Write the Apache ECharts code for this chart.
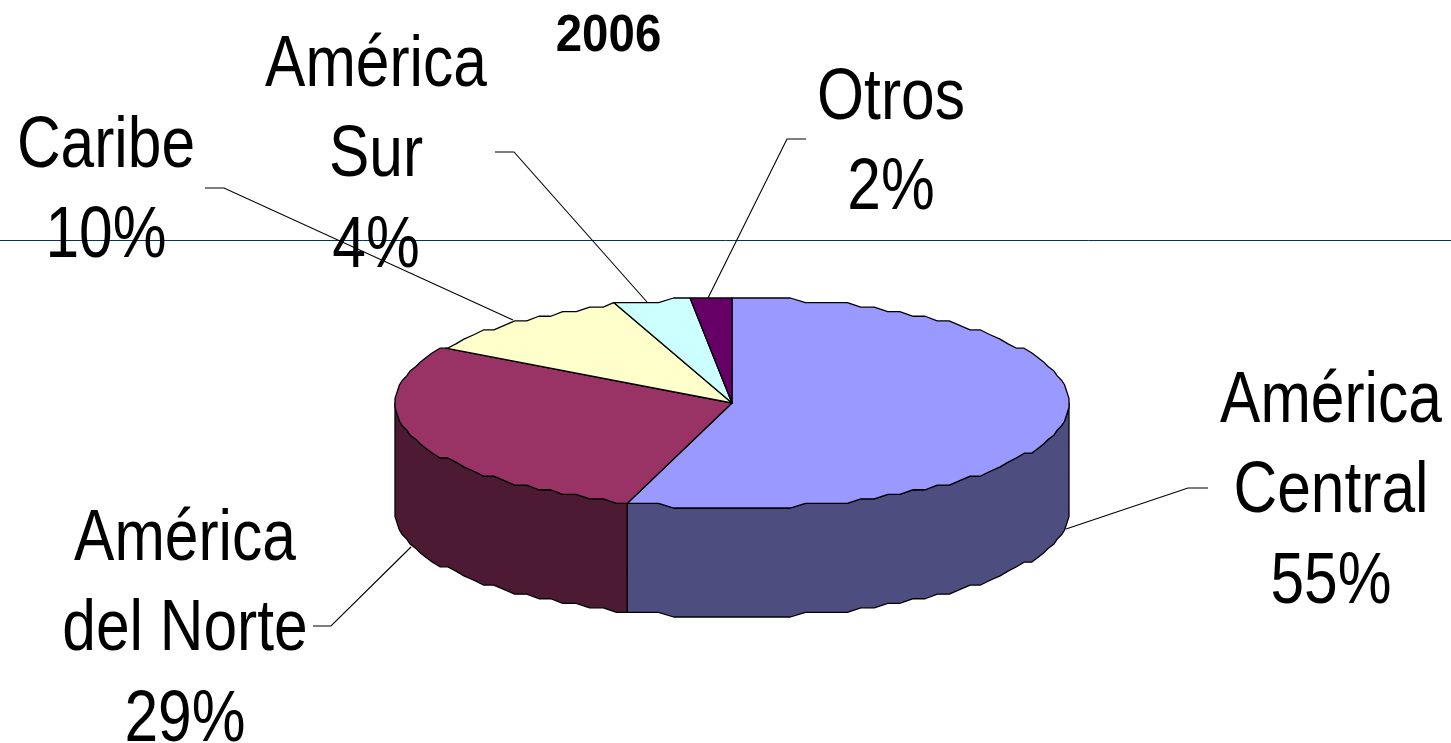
<!DOCTYPE html>
<html>
<head>
<meta charset="utf-8">
<style>html,body{margin:0;padding:0;background:#fff}#c{width:1451px;height:743px}</style>
<script src="https://cdn.jsdelivr.net/npm/echarts@6/dist/echarts.min.js"></script>
</head>
<body>
<div id="c"></div>
<script>
// Data
const titleText = '2006';
const categories = ['América Central', 'América del Norte', 'Caribe', 'América Sur', 'Otros'];
const shares = [55, 28.9, 10.4, 3.7, 2];
const labelNames = [['América', 'Central'], ['América', 'del Norte'], ['Caribe'], ['América', 'Sur'], ['Otros']];

// Style / layout (separate from data)
const topColors = ['#9999FF', '#993366', '#FFFFCC', '#CCFFFF', '#660066'];
const sideColors = ['#4D4D80', '#4D1A33', '#80804D', '#668080', '#330033'];
const labelCentres = [[1331, 402], [185, 540], [106, 147], [376, 66], [891, 99]];
const labelLineGap = 90.5;
const leaders = [
  [[1208, 488], [1188, 488], [1066, 529]],
  [[313, 626], [331, 626], [411, 547]],
  [[205, 188], [224, 188], [513, 320]],
  [[495, 152], [514, 152], [647, 302]],
  [[806, 139], [787, 139], [708, 298]]
];
const cx = 732, cy = 403, rx = 337, ry = 105, depth = 109;
const gridX = rx / 225, gridY = ry / 23, stepDeg = 2.5;

const total = shares.reduce((a, b) => a + b, 0);
function startAngle(i) {
  let s = 0;
  for (let k = 0; k < i; k++) s += shares[k];
  return s / total * 360;
}
function rimPoint(deg, dy) {
  const t = deg * Math.PI / 180;
  return [
    cx + Math.round(rx * Math.sin(t) / gridX) * gridX,
    cy + dy - Math.round(ry * Math.cos(t) / gridY) * gridY
  ];
}
function rim(a0, a1, dy) {
  const pts = [rimPoint(a0, dy)];
  let a = (Math.floor(a0 / stepDeg) + 1) * stepDeg;
  for (; a < a1; a += stepDeg) pts.push(rimPoint(a, dy));
  pts.push(rimPoint(a1, dy));
  return pts;
}
const outline = { stroke: '#000', lineWidth: 1.3, lineJoin: 'round' };

function renderSide(params, api) {
  const i = params.dataIndex;
  const a0 = Math.max(startAngle(i), 90);
  const a1 = Math.min(startAngle(i) + api.value(0) / total * 360, 270);
  if (a1 <= a0) return { type: 'group', children: [] };
  const pts = rim(a0, a1, 0).concat(rim(a0, a1, depth).reverse());
  return {
    type: 'polygon',
    shape: { points: pts },
    style: Object.assign({ fill: sideColors[i] }, outline)
  };
}
function renderTop(params, api) {
  const i = params.dataIndex;
  const a0 = startAngle(i);
  const a1 = a0 + api.value(0) / total * 360;
  return {
    type: 'polygon',
    shape: { points: [[cx, cy]].concat(rim(a0, a1, 0)) },
    style: Object.assign({ fill: topColors[i] }, outline)
  };
}
function textEl(str, x, y, font, sx) {
  return {
    type: 'text', x: x, y: y, scaleX: sx,
    style: { text: str, x: 0, y: 0, font: font, fill: '#000', align: 'center', verticalAlign: 'middle' }
  };
}
function renderLabel(params, api) {
  const i = params.dataIndex;
  const font = '72px "Liberation Sans", Arial, sans-serif';
  const lines = labelNames[i].concat([Math.round(api.value(0)) + '%']);
  const children = lines.map((s, k) =>
    textEl(s, labelCentres[i][0], labelCentres[i][1] + k * labelLineGap, font, 0.84));
  children.push({
    type: 'polyline',
    shape: { points: leaders[i] },
    style: { stroke: '#000', lineWidth: 1.1, fill: null }
  });
  return { type: 'group', children: children };
}
const seriesData = categories.map((c, i) => ({ name: c, value: [shares[i]] }));

const chart = echarts.init(document.getElementById('c'), null, { renderer: 'canvas' });
chart.setOption({
  animation: false,
  backgroundColor: '#fff',
  graphic: [{
    type: 'line', z: -1, silent: true,
    shape: { x1: 0, y1: 240.5, x2: 1451, y2: 240.5 },
    style: { stroke: '#003366', lineWidth: 1 }
  }, {
    type: 'text', x: 608.5, y: 37, scaleX: 0.93, z: 10,
    style: { text: titleText, x: 0, y: 0, fill: '#000', font: 'bold 51px "Liberation Sans", Arial, sans-serif', align: 'center', verticalAlign: 'middle' }
  }],
  series: [
    { type: 'custom', name: 'Lado', coordinateSystem: 'none', renderItem: renderSide, data: seriesData, z: 2 },
    { type: 'custom', name: 'Cara', coordinateSystem: 'none', renderItem: renderTop, data: seriesData, z: 3 },
    { type: 'custom', name: 'Etiquetas', coordinateSystem: 'none', renderItem: renderLabel, data: seriesData, z: 4 }
  ]
});
</script>
</body>
</html>
